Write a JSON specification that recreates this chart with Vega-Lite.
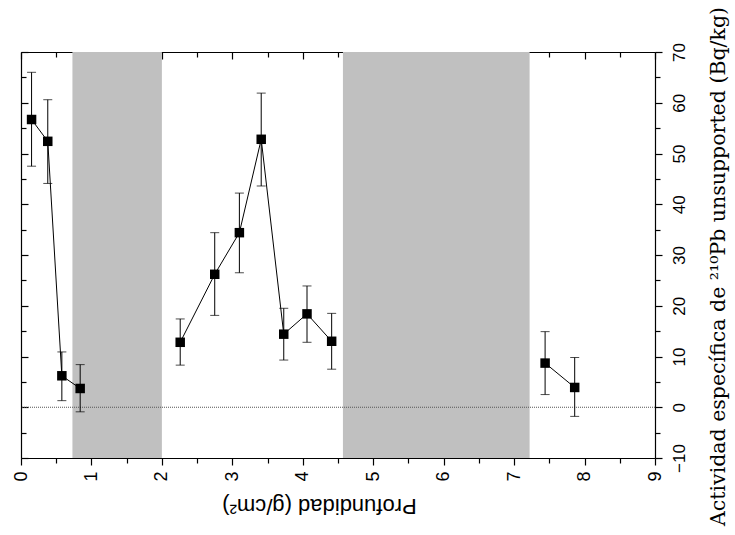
{
  "$schema": "https://vega.github.io/schema/vega-lite/v6.json",
  "width": 634,
  "height": 406,
  "autosize": {"type": "none"},
  "padding": {"left": 21, "top": 52, "right": 80, "bottom": 77},
  "background": "white",
  "config": {"view": {"stroke": null}, "axis": {"grid": false, "domainColor": "black", "tickColor": "black", "domainWidth": 1.2, "tickWidth": 1.2}},
  "datasets": {
    "pts": [
      {"x": 0.15, "y": 56.7, "lo": 47.5, "hi": 66.0, "seg": "a"},
      {"x": 0.38, "y": 52.4, "lo": 44.1, "hi": 60.6, "seg": "a"},
      {"x": 0.58, "y": 6.2, "lo": 1.3, "hi": 10.9, "seg": "a"},
      {"x": 0.84, "y": 3.7, "lo": -0.9, "hi": 8.4, "seg": "a"},
      {"x": 2.26, "y": 12.8, "lo": 8.3, "hi": 17.4, "seg": "b"},
      {"x": 2.75, "y": 26.2, "lo": 18.1, "hi": 34.4, "seg": "b"},
      {"x": 3.10, "y": 34.4, "lo": 26.5, "hi": 42.2, "seg": "b"},
      {"x": 3.41, "y": 52.8, "lo": 43.6, "hi": 61.9, "seg": "b"},
      {"x": 3.73, "y": 14.4, "lo": 9.3, "hi": 19.5, "seg": "b"},
      {"x": 4.06, "y": 18.4, "lo": 12.8, "hi": 23.9, "seg": "b"},
      {"x": 4.41, "y": 13.0, "lo": 7.5, "hi": 18.5, "seg": "b"},
      {"x": 7.44, "y": 8.7, "lo": 2.5, "hi": 14.9, "seg": "c"},
      {"x": 7.86, "y": 3.9, "lo": -1.8, "hi": 9.8, "seg": "c"}
    ],
    "bands": [
      {"start": 0.73, "end": 2.0},
      {"start": 4.57, "end": 7.22}
    ],
    "zero": [{"v": 0}]
  },
  "resolve": {"axis": {"x": "independent", "y": "independent"}},
  "layer": [
    {
      "data": {"name": "bands"},
      "mark": {"type": "rect", "color": "#c0c0c0"},
      "encoding": {
        "x": {"field": "start", "type": "quantitative", "scale": {"domain": [0, 9], "nice": false, "zero": false}, "axis": null},
        "x2": {"field": "end"}
      }
    },
    {
      "data": {"name": "zero"},
      "mark": {"type": "rule", "color": "#555555", "strokeDash": [1, 1], "strokeWidth": 1},
      "encoding": {
        "y": {"field": "v", "type": "quantitative", "scale": {"domain": [-10, 70], "nice": false, "zero": false}, "axis": null}
      }
    },
    {
      "data": {"name": "pts"},
      "mark": {"type": "rule", "color": "black", "strokeWidth": 1},
      "encoding": {
        "x": {"field": "x", "type": "quantitative", "scale": {"domain": [0, 9], "nice": false, "zero": false},
          "axis": {"orient": "bottom", "values": [0,1,2,3,4,5,6,7,8,9], "tickSize": 7, "labelAngle": 270, "labelAlign": "center", "labelBaseline": "middle", "labelFont": "Liberation Sans", "labelFontSize": 18, "labelColor": "black", "labelPadding": 11,
            "title": "Profundidad (g/cm²)", "titleAngle": 180, "titleAlign": "center", "titleBaseline": "middle", "titleX": 298, "titleY": 47, "titleFont": "Liberation Sans", "titleFontSize": 22, "titleFontWeight": "normal", "titleColor": "black"}},
        "y": {"field": "lo", "type": "quantitative", "scale": {"domain": [-10, 70], "nice": false, "zero": false},
          "axis": {"orient": "right", "values": [-10,0,10,20,30,40,50,60,70], "tickSize": 7, "labelAngle": 270, "labelAlign": "center", "labelBaseline": "middle", "labelFont": "Liberation Sans", "labelFontSize": 17, "labelColor": "black", "labelPadding": 17,
            "title": "Actividad específica de ²¹⁰Pb unsupported (Bq/kg)", "titleAngle": 270, "titleAlign": "center", "titleBaseline": "middle", "titleX": 63, "titleY": 214, "titleFont": "DejaVu Serif", "titleFontSize": 20.5, "titleFontWeight": "normal", "titleColor": "black"}},
        "y2": {"field": "hi"}
      }
    },
    {
      "data": {"name": "pts"},
      "mark": {"type": "tick", "orient": "horizontal", "color": "black", "size": 9, "thickness": 1},
      "encoding": {
        "x": {"field": "x", "type": "quantitative", "axis": {"orient": "bottom", "values": [0.5,1.5,2.5,3.5,4.5,5.5,6.5,7.5,8.5], "tickSize": 5, "labels": false, "domain": false, "title": null}},
        "y": {"field": "hi", "type": "quantitative", "axis": {"orient": "right", "values": [-5,5,15,25,35,45,55,65], "tickSize": 5, "labels": false, "domain": false, "title": null}}
      }
    },
    {
      "data": {"name": "pts"},
      "mark": {"type": "tick", "orient": "horizontal", "color": "black", "size": 9, "thickness": 1},
      "encoding": {
        "x": {"field": "x", "type": "quantitative", "axis": {"orient": "top", "values": [0,1,2,3,4,5,6,7,8,9], "tickSize": -7, "labels": false, "title": null}},
        "y": {"field": "lo", "type": "quantitative", "axis": {"orient": "left", "values": [-10,0,10,20,30,40,50,60,70], "tickSize": -7, "labels": false, "title": null}}
      }
    },
    {
      "data": {"name": "pts"},
      "mark": {"type": "line", "color": "black", "strokeWidth": 1},
      "encoding": {
        "x": {"field": "x", "type": "quantitative", "axis": {"orient": "top", "values": [0.5,1.5,2.5,3.5,4.5,5.5,6.5,7.5,8.5], "tickSize": -5, "labels": false, "domain": false, "title": null}},
        "y": {"field": "y", "type": "quantitative", "axis": {"orient": "left", "values": [-5,5,15,25,35,45,55,65], "tickSize": -5, "labels": false, "domain": false, "title": null}},
        "detail": {"field": "seg", "type": "nominal"}
      }
    },
    {
      "data": {"name": "pts"},
      "mark": {"type": "point", "shape": "square", "filled": true, "color": "black", "opacity": 1, "size": 90},
      "encoding": {
        "x": {"field": "x", "type": "quantitative", "axis": null},
        "y": {"field": "y", "type": "quantitative", "axis": null}
      }
    }
  ]
}
